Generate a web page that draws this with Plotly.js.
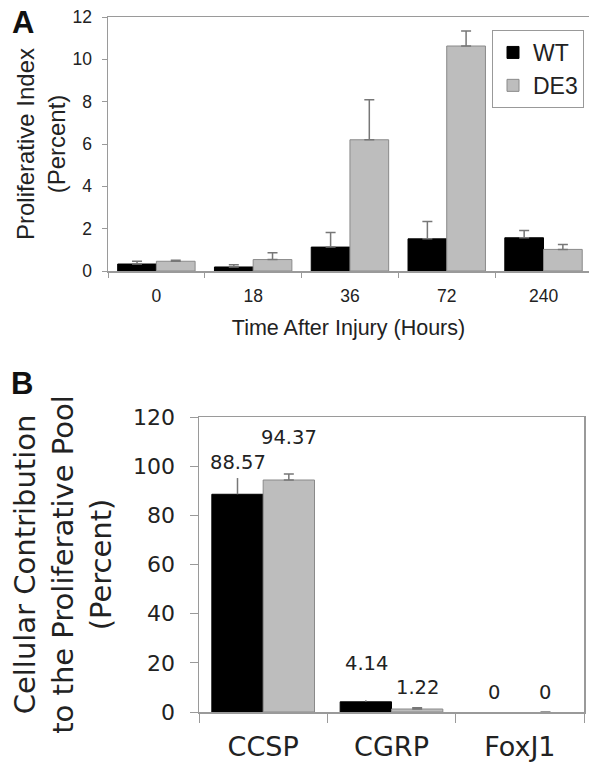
<!DOCTYPE html>
<html><head><meta charset="utf-8">
<script src="https://cdn.plot.ly/plotly-3.0.1.min.js"></script>
<style>html,body{margin:0;padding:0;background:#fff}#chart{width:589px;height:767px}</style>
</head><body><div id="chart"></div>
<script>
// Panel A data
const timeLabels = ['0', '18', '36', '72', '240'];
const wtIndex = [0.33, 0.19, 1.13, 1.52, 1.57];
const wtIndexErr = [0.13, 0.11, 0.69, 0.82, 0.34];
const de3Index = [0.46, 0.54, 6.20, 10.63, 1.02];
const de3IndexErr = [0.05, 0.32, 1.89, 0.71, 0.23];
// Panel B data
const cellTypes = ['CCSP', 'CGRP', 'FoxJ1'];
const wtContribution = [88.57, 4.14, 0];
const wtContributionErr = [6.6, 0.6, 0];
const de3Contribution = [94.37, 1.22, 0];
const de3ContributionErr = [2.4, 0.5, 0];
const wtLabels = ['88.57', '4.14', '0'];
const de3Labels = ['94.37', '1.22', '0'];

const W = 589, H = 767;
const fa = 'Liberation Sans, Arial, sans-serif';
const fb = 'DejaVu Sans, Verdana, sans-serif';
const txt = '#222';
const axc = '#9a9a9a';
const WT_COL = '#000000', DE3_COL = '#bdbdbd', DE3_LINE = '#8a8a8a';
const outlineFor = a => a.map(v => (v > 0 ? 1 : 0));

function errBar(arr, w) {
  const up = arr.map(v => (v > 0 ? v : null));
  const down = arr.map(v => (v > 0 ? 0 : null));
  return {type: 'data', array: up, arrayminus: down, symmetric: false,
          color: '#777', thickness: 1.5, width: w, visible: true};
}

const traces = [
  {type: 'bar', name: 'WT', legendgroup: 'wt', x: timeLabels, y: wtIndex, xaxis: 'x', yaxis: 'y',
   marker: {color: WT_COL, line: {color: '#000', width: 1}}, error_y: errBar(wtIndexErr, 5)},
  {type: 'bar', name: 'DE3', legendgroup: 'de3', x: timeLabels, y: de3Index, xaxis: 'x', yaxis: 'y',
   marker: {color: DE3_COL, line: {color: DE3_LINE, width: 1}}, error_y: errBar(de3IndexErr, 5)},
  {type: 'bar', name: 'WT', showlegend: false, x: cellTypes, y: wtContribution, xaxis: 'x2', yaxis: 'y2',
   marker: {color: WT_COL, line: {color: '#000', width: outlineFor(wtContribution)}},
   error_y: errBar(wtContributionErr, 0)},
  {type: 'bar', name: 'DE3', showlegend: false, x: cellTypes, y: de3Contribution, xaxis: 'x2', yaxis: 'y2',
   marker: {color: DE3_COL, line: {color: DE3_LINE, width: outlineFor(de3Contribution)}},
   error_y: errBar(de3ContributionErr, 5)}
];

// label lift above bar top, in px
const wtLift = [32, 38, 20];
const de3Lift = [43, 22, 20];
const annotations = [
  {xref: 'paper', yref: 'paper', x: 23 / W, y: 1 - 22 / H, text: '<b>A</b>', showarrow: false,
   xanchor: 'center', yanchor: 'middle', font: {family: fa, size: 31, color: '#111'}},
  {xref: 'paper', yref: 'paper', x: 22 / W, y: 1 - 383 / H, text: '<b>B</b>', showarrow: false,
   xanchor: 'center', yanchor: 'middle', font: {family: fa, size: 31, color: '#111'}}
];
cellTypes.forEach((c, i) => {
  annotations.push({xref: 'x2', yref: 'y2', x: c, y: wtContribution[i], text: wtLabels[i], showarrow: false,
    xshift: -25.5, yshift: wtLift[i], yanchor: 'middle', font: {family: fb, size: 19.5, color: txt}});
  annotations.push({xref: 'x2', yref: 'y2', x: c, y: de3Contribution[i], text: de3Labels[i], showarrow: false,
    xshift: 25.5, yshift: de3Lift[i], yanchor: 'middle', font: {family: fb, size: 19.5, color: txt}});
});

const layout = {
  width: W, height: H, margin: {l: 0, r: 0, t: 0, b: 0},
  paper_bgcolor: '#fff', plot_bgcolor: '#fff',
  barmode: 'group', bargap: 0.2, bargroupgap: 0,
  showlegend: true,
  legend: {x: 492 / W, y: 1 - 30 / H, xanchor: 'left', yanchor: 'top', bgcolor: '#fff',
           bordercolor: '#999', borderwidth: 1, tracegroupgap: 6, traceorder: 'normal',
           font: {family: fa, size: 23, color: txt}},
  xaxis: {domain: [108 / W, 1], anchor: 'y', type: 'category', range: [-0.5, 4.47],
          tickson: 'boundaries', ticks: 'outside', ticklen: 5, tickcolor: axc, tickwidth: 1,
          showline: true, linecolor: axc, linewidth: 1.5, mirror: true, showgrid: false,
          tickfont: {family: fa, size: 17.5, color: txt}, automargin: false, ticklabelstandoff: 8,
          title: {text: 'Time After Injury (Hours)', font: {family: fa, size: 21.5, color: txt}, standoff: 15}},
  yaxis: {domain: [1 - 271 / H, 1 - 17 / H], anchor: 'x', range: [0, 12], dtick: 2,
          ticks: 'outside', ticklen: 5, tickcolor: axc, showline: true, linecolor: axc, linewidth: 1.5,
          showgrid: false, zeroline: false, automargin: false, ticklabelstandoff: 6,
          tickfont: {family: fa, size: 17.5, color: txt},
          title: {text: 'Proliferative Index<br>(Percent)', font: {family: fa, size: 24, color: txt}, standoff: 0}},
  xaxis2: {domain: [199 / W, 584 / W], anchor: 'y2', type: 'category',
           tickson: 'boundaries', ticks: 'outside', ticklen: 9, tickcolor: axc,
           showline: true, linecolor: axc, linewidth: 1.5, mirror: true, showgrid: false,
           tickfont: {family: fb, size: 27, color: txt}, automargin: false, ticklabelstandoff: 10},
  yaxis2: {domain: [1 - 712 / H, 1 - 417 / H], anchor: 'x2', range: [0, 120], dtick: 20,
           ticks: 'outside', ticklen: 8, tickcolor: axc, showline: true, linecolor: axc, linewidth: 1.5,
           mirror: true, showgrid: false, zeroline: false, automargin: false, ticklabelstandoff: 10,
           tickfont: {family: fb, size: 22, color: txt},
           title: {text: 'Cellular Contribution<br>to the Proliferative Pool<br>(Percent)',
                   font: {family: fb, size: 29, color: txt}, standoff: 13}},
  annotations: annotations
};

Plotly.newPlot('chart', traces, layout, {staticPlot: true, displayModeBar: false});
</script></body></html>
